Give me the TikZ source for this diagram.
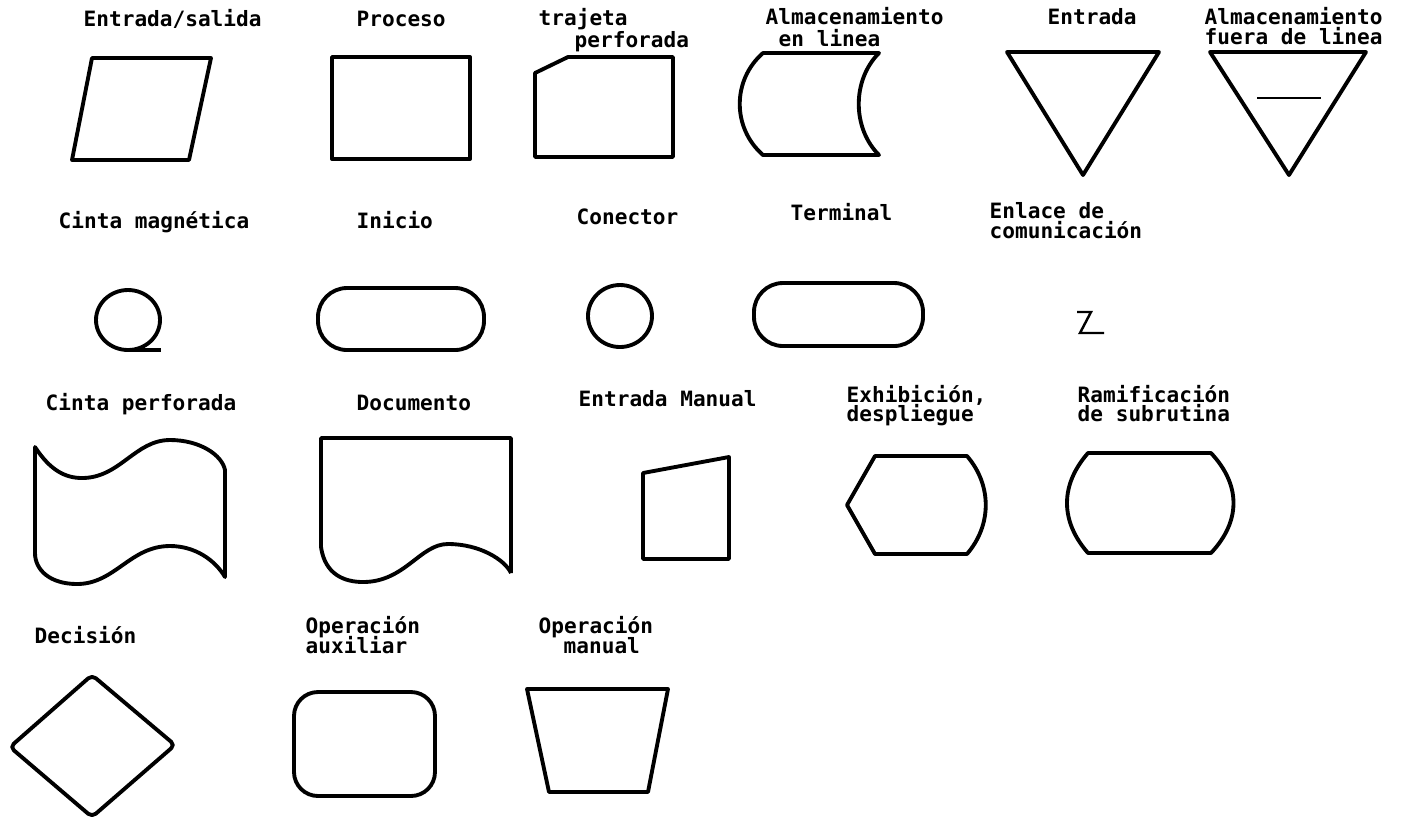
\documentclass[tikz,border=0pt]{standalone}
\usepackage{fontspec}
\usepackage{xcolor}
\usepackage{tikz}
\usetikzlibrary{arrows.meta, positioning, calc}
\newfontfamily\lblfont{DejaVu Sans Mono}

\tikzset{
    lbl/.style={font=\lblfont\bfseries\fontsize{6}{7}\selectfont, inner sep=0pt, anchor=base west},
    simbolo/.style={draw=black, line width=1.1pt, line join=round},
    fino/.style={draw=black, line width=0.7pt}
}

\begin{document}
\begin{tikzpicture}[x=0.01cm, y=-0.01cm]
    \useasboundingbox (0,0) rectangle (1402,820);

    % fila 1
    \node[lbl] (l-es) at (83, 26) {Entrada/salida};
    \node[lbl] (l-proc) at (356, 26) {Proceso};
    \node[lbl] (l-tra1) at (538, 25) {trajeta};
    \node[lbl] (l-tra2) at (574, 47) {perforada};
    \node[lbl] (l-alm1) at (765, 24) {Almacenamiento};
    \node[lbl] (l-alm2) at (778, 46) {en linea};
    \node[lbl] (l-ent) at (1047, 24) {Entrada};
    \node[lbl] (l-fue1) at (1204, 24) {Almacenamiento};
    \node[lbl] (l-fue2) at (1204, 44) {fuera de linea};

    \draw[simbolo] (92,58) -- (211,58) -- (189,160) -- (72,160) -- cycle;
    \draw[simbolo] (332,57) rectangle (470,159);
    \draw[simbolo] (568,57) -- (673,57) -- (673,157) -- (535,157) -- (535,73) -- cycle;
    \draw[simbolo] (763,53) -- (879,53) .. controls (852,80) and (852,128) .. (879,155)
        -- (763,155) .. controls (732,128) and (732,80) .. cycle;
    \draw[simbolo] (1007,52) -- (1159,52) -- (1083,175) -- cycle;
    \draw[simbolo] (1210,52) -- (1366,52) -- (1289,175) -- cycle;
    \draw[fino] (1257,98) -- (1321,98);

    % fila 2
    \node[lbl] (l-cm) at (58, 228) {Cinta magnética};
    \node[lbl] (l-ini) at (356, 228) {Inicio};
    \node[lbl] (l-con) at (576, 224) {Conector};
    \node[lbl] (l-ter) at (790, 220) {Terminal};
    \node[lbl] (l-enl1) at (989, 218) {Enlace de};
    \node[lbl] (l-enl2) at (989, 238) {comunicación};

    \draw[simbolo] (128,320) ellipse [x radius=32, y radius=30];
    \draw[simbolo] (128,350) -- (161,350);
    \draw[simbolo, rounded corners=0.29cm] (318,288) rectangle (484,350);
    \draw[simbolo] (620,316) ellipse [x radius=32, y radius=31];
    \draw[simbolo, rounded corners=0.29cm] (754,283) rectangle (923,346);
    \draw[fino] (1077,312) -- (1091,312) -- (1080,333) -- (1104,333);

    % fila 3
    \node[lbl] (l-cp) at (45, 410) {Cinta perforada};
    \node[lbl] (l-doc) at (356, 410) {Documento};
    \node[lbl] (l-em) at (578, 406) {Entrada Manual};
    \node[lbl] (l-exh1) at (846, 402) {Exhibición,};
    \node[lbl] (l-exh2) at (846, 421) {despliegue};
    \node[lbl] (l-ram1) at (1077, 402) {Ramificación};
    \node[lbl] (l-ram2) at (1077, 421) {de subrutina};

    \draw[simbolo] (35,447) .. controls (50,470) and (65,478) .. (82,478)
        .. controls (120,478) and (135,440) .. (170,440)
        .. controls (200,440) and (222,455) .. (225,470) -- (225,577)
        .. controls (215,560) and (195,546) .. (170,546)
        .. controls (130,546) and (115,584) .. (77,584)
        .. controls (50,584) and (35,570) .. (35,553) -- cycle;
    \draw[simbolo] (511,573) -- (511,438) -- (321,438) -- (321,547)
        .. controls (325,575) and (345,582) .. (363,582)
        .. controls (405,582) and (420,544) .. (448,544)
        .. controls (480,544) and (505,560) .. (511,573);
    \draw[simbolo] (643,473) -- (729,457) -- (729,559) -- (643,559) -- cycle;
    \draw[simbolo] (847,505) -- (875,456) -- (967,456)
        .. controls (992,485) and (992,525) .. (967,554) -- (875,554) -- cycle;
    \draw[simbolo] (1088,453) -- (1211,453) .. controls (1241,485) and (1241,521) .. (1211,553)
        -- (1088,553) .. controls (1060,521) and (1060,485) .. cycle;

    % fila 4
    \node[lbl] (l-dec) at (34, 643) {Decisión};
    \node[lbl] (l-aux1) at (305, 633) {Operación};
    \node[lbl] (l-aux2) at (305, 653) {auxiliar};
    \node[lbl] (l-man1) at (538, 633) {Operación};
    \node[lbl] (l-man2) at (563, 653) {manual};

    \draw[simbolo, rounded corners=0.05cm] (92,675) -- (175,745) -- (92,817) -- (10,747) -- cycle;
    \draw[simbolo, rounded corners=0.24cm] (294,692) rectangle (435,796);
    \draw[simbolo] (527,689) -- (668,689) -- (648,792) -- (549,792) -- cycle;
\end{tikzpicture}
\end{document}
